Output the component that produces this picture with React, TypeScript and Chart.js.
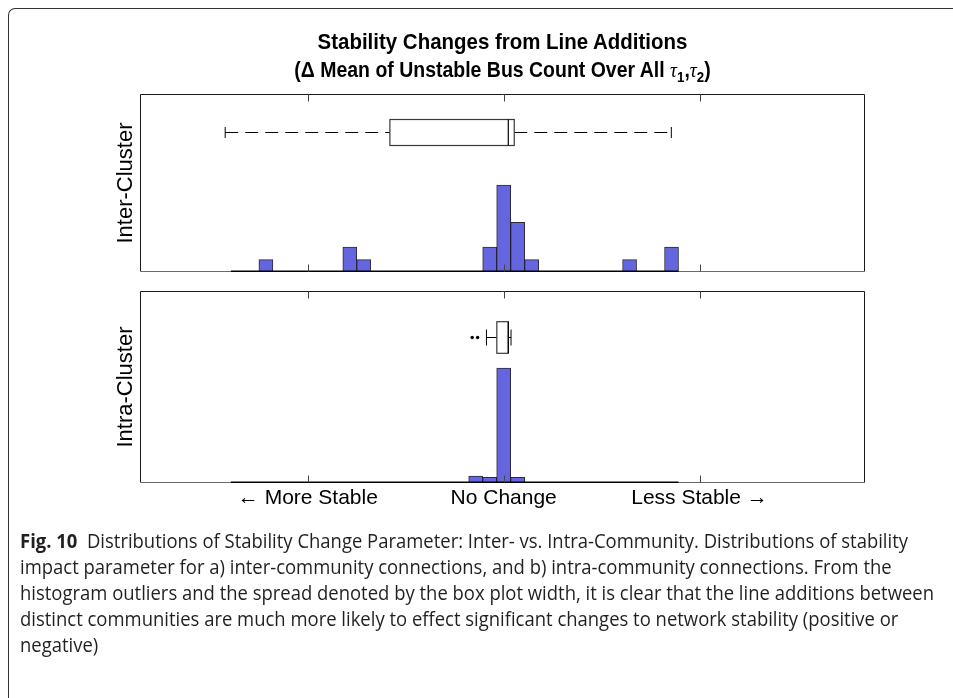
import React, { useEffect, useRef, useState } from "react";
import { Chart, registerables } from "chart.js";

Chart.register(...registerables);

// ---------------- data ----------------
// x axis: Δ mean of unstable bus count, in units where the tick marks sit at -1, 0, 1
const tickValues = [-1, 0, 1];
const tickLabels = ["\u2190 More Stable", "No Change", "Less Stable \u2192"];
const xMin = -1.857;
const xMax = 1.845;

// histogram bins (width 1/14), span of the binned range
const histRange = [-1.3929, 0.8929];

// Inter-cluster histogram: bin centres and counts
const interCenters = [-1.2143, -0.7857, -0.7143, -0.0714, 0, 0.0714, 0.1429, 0.6429, 0.8571];
const interCounts = [1, 2, 1, 2, 7, 4, 1, 1, 2];

// Intra-cluster histogram: bin centres and counts
const intraCenters = [-0.1429, -0.0714, 0, 0.0714];
const intraCounts = [5, 4, 82, 4];

// box plot statistics: [lower whisker, Q1, median, Q3, upper whisker]
const interBox = [-1.422, -0.581, 0.0235, 0.054, 0.856];
const intraBox = [-0.088, -0.035, 0.0235, 0.0235, 0.0375];
const interOutliers: number[] = [];
const intraOutliers = [-0.161, -0.133];

const panelNames = ["Inter-Cluster", "Intra-Cluster"];

const titleLine1 = "Stability Changes from Line Additions";
const titleLine2 = "(\u0394 Mean of Unstable Bus Count Over All ";

const captionBold = "Fig. 10";
const captionLines = [
  "  Distributions of Stability Change Parameter: Inter- vs. Intra-Community. Distributions of stability",
  "impact parameter for a) inter-community connections, and b) intra-community connections. From the",
  "histogram outliers and the spread denoted by the box plot width, it is clear that the line additions between",
  "distinct communities are much more likely to effect significant changes to network stability (positive or",
  "negative)",
];

// ---------------- styles ----------------
const BAR_FILL = "#6565e0";
const BAR_EDGE = "rgba(20,20,40,0.9)";
const FONT = '"Liberation Sans", Arial, Helvetica, sans-serif';
const CAPTION_FONT = '"Open Sans", "Noto Sans", sans-serif';
const CAPTION_SIZE = 20;
const CAPTION_TARGET = 914;

type PanelSpec = {
  id: string;
  box: number[];
  outliers: number[];
  boxY: number;
  boxHalf: number;
  capHalf: number;
  yLabel: string;
  showLabels: boolean;
};

function makePanelPlugin(spec: PanelSpec) {
  return {
    id: spec.id,
    afterDatasetsDraw(chart: any) {
      const { ctx, chartArea: a, scales } = chart;
      const x = scales.x;
      const y = scales.y;
      const L = Math.round(a.left) + 0.5;
      const R = Math.round(a.right) - 0.5;
      const T = Math.round(a.top) + 0.5;
      const B = Math.round(a.bottom) - 0.5;
      ctx.save();

      // axes box
      ctx.lineWidth = 1;
      ctx.strokeStyle = "#1a1a1a";
      ctx.beginPath();
      ctx.moveTo(L, B);
      ctx.lineTo(L, T);
      ctx.lineTo(R, T);
      ctx.lineTo(R, B);
      ctx.stroke();
      ctx.strokeStyle = "#6a6a6a";
      ctx.beginPath();
      ctx.moveTo(L, B);
      ctx.lineTo(R, B);
      ctx.stroke();

      // histogram zero baseline
      ctx.strokeStyle = "#000";
      ctx.lineWidth = 1.6;
      ctx.beginPath();
      ctx.moveTo(x.getPixelForValue(histRange[0]), B - 0.3);
      ctx.lineTo(x.getPixelForValue(histRange[1]), B - 0.3);
      ctx.stroke();

      // inward ticks
      ctx.strokeStyle = "#444";
      ctx.lineWidth = 1;
      tickValues.forEach((v) => {
        const px = Math.round(x.getPixelForValue(v)) + 0.5;
        ctx.beginPath();
        ctx.moveTo(px, T);
        ctx.lineTo(px, T + 7);
        ctx.moveTo(px, B);
        ctx.lineTo(px, B - 7);
        ctx.stroke();
      });

      // box plot
      const yc = Math.round(y.getPixelForValue(spec.boxY)) + 0.5;
      const [wl, q1, med, q3, wh] = spec.box.map((v) => x.getPixelForValue(v));
      ctx.strokeStyle = "#000";
      ctx.lineWidth = 1;
      ctx.setLineDash([13, 7]);
      ctx.beginPath();
      ctx.moveTo(wl, yc);
      ctx.lineTo(q1, yc);
      ctx.stroke();
      ctx.beginPath();
      ctx.moveTo(q3, yc);
      ctx.lineTo(wh, yc);
      ctx.stroke();
      ctx.setLineDash([]);
      ctx.beginPath();
      ctx.moveTo(wl, yc - spec.capHalf);
      ctx.lineTo(wl, yc + spec.capHalf);
      ctx.moveTo(wh, yc - spec.capHalf);
      ctx.lineTo(wh, yc + spec.capHalf);
      ctx.stroke();
      ctx.fillStyle = "#fff";
      ctx.fillRect(q1, yc - spec.boxHalf, q3 - q1, spec.boxHalf * 2);
      ctx.strokeStyle = "#3a3a3a";
      ctx.lineWidth = 1.2;
      ctx.strokeRect(q1, yc - spec.boxHalf, q3 - q1, spec.boxHalf * 2);
      ctx.strokeStyle = "#000";
      ctx.lineWidth = 1.2;
      ctx.beginPath();
      ctx.moveTo(med, yc - spec.boxHalf);
      ctx.lineTo(med, yc + spec.boxHalf);
      ctx.stroke();
      ctx.fillStyle = "#000";
      spec.outliers.forEach((v) => {
        ctx.beginPath();
        ctx.arc(x.getPixelForValue(v), yc, 1.7, 0, Math.PI * 2);
        ctx.fill();
      });

      // y label
      ctx.fillStyle = "#000";
      ctx.font = `22px ${FONT}`;
      ctx.textAlign = "center";
      ctx.textBaseline = "middle";
      ctx.save();
      ctx.translate(126, (a.top + a.bottom) / 2);
      ctx.rotate(-Math.PI / 2);
      ctx.fillText(spec.yLabel, 0, 0);
      ctx.restore();

      // x tick labels
      if (spec.showLabels) {
        ctx.font = `21px ${FONT}`;
        tickValues.forEach((v, i) => {
          ctx.fillText(tickLabels[i], x.getPixelForValue(v), a.bottom + 15);
        });
      }
      ctx.restore();
    },
  };
}

function makeConfig(
  centers: number[],
  counts: number[],
  yMax: number,
  padding: { left: number; right: number; top: number; bottom: number },
  spec: PanelSpec
): any {
  return {
    type: "bar",
    data: {
      datasets: [
        {
          data: centers.map((c, i) => ({ x: c, y: counts[i] })),
          backgroundColor: BAR_FILL,
          borderColor: BAR_EDGE,
          borderWidth: 1,
          borderSkipped: false,
          barPercentage: 1,
          categoryPercentage: 1,
        },
      ],
    },
    options: {
      animation: false,
      responsive: false,
      maintainAspectRatio: false,
      devicePixelRatio: 1,
      layout: { padding },
      plugins: {
        legend: { display: false },
        tooltip: { enabled: false },
        title: { display: false },
      },
      scales: {
        x: { type: "linear", min: xMin, max: xMax, display: false, offset: false },
        y: { type: "linear", min: 0, max: yMax, display: false },
      },
    },
    plugins: [makePanelPlugin(spec)],
  };
}

function captionScale(): number {
  try {
    const ctx = document.createElement("canvas").getContext("2d");
    if (!ctx) return 0.83;
    ctx.font = `${CAPTION_SIZE}px ${CAPTION_FONT}`;
    const w = ctx.measureText(captionLines[2]).width;
    return w > 0 ? CAPTION_TARGET / w : 0.83;
  } catch (e) {
    return 0.83;
  }
}

const serifTau = {
  fontFamily: '"Liberation Serif", "DejaVu Serif", serif',
  fontStyle: "italic" as const,
  fontWeight: "normal" as const,
};

export default function App() {
  const topRef = useRef<HTMLCanvasElement>(null);
  const botRef = useRef<HTMLCanvasElement>(null);
  const [scale] = useState(captionScale);

  useEffect(() => {
    const c1 = new Chart(
      topRef.current as HTMLCanvasElement,
      makeConfig(interCenters, interCounts, 14.35, { left: 140, right: 88, top: 94, bottom: 13 }, {
        id: "interPanel",
        box: interBox,
        outliers: interOutliers,
        boxY: 11.27,
        boxHalf: 13,
        capHalf: 5.5,
        yLabel: panelNames[0],
        showLabels: false,
      })
    );
    const c2 = new Chart(
      botRef.current as HTMLCanvasElement,
      makeConfig(intraCenters, intraCounts, 137, { left: 140, right: 88, top: 6, bottom: 62 }, {
        id: "intraPanel",
        box: intraBox,
        outliers: intraOutliers,
        boxY: 103.9,
        boxHalf: 15.8,
        capHalf: 8,
        yLabel: panelNames[1],
        showLabels: true,
      })
    );
    return () => {
      c1.destroy();
      c2.destroy();
    };
  }, []);

  return (
    <div style={{ position: "absolute", left: 0, top: 0, width: 953, height: 698, overflow: "hidden", background: "#fff" }}>
      <div
        style={{
          position: "absolute",
          left: 8,
          top: 8,
          width: 1000,
          height: 760,
          borderLeft: "1.5px solid #333",
          borderTop: "1.5px solid #333",
          borderTopLeftRadius: 7,
        }}
      />
      <canvas ref={topRef} width={953} height={285} style={{ position: "absolute", left: 0, top: 0, width: 953, height: 285 }} />
      <canvas ref={botRef} width={953} height={260} style={{ position: "absolute", left: 0, top: 285, width: 953, height: 260 }} />
      <div
        style={{
          position: "absolute",
          left: 140,
          width: 725,
          top: 28,
          textAlign: "center",
          fontFamily: FONT,
          fontWeight: "bold",
          fontSize: 22,
          lineHeight: "28px",
          color: "#000",
          whiteSpace: "nowrap",
        }}
      >
        <div style={{ transform: "scaleX(0.93)", transformOrigin: "center top" }}>{titleLine1}</div>
        <div style={{ transform: "scaleX(0.885)", transformOrigin: "center top" }}>
          {titleLine2}
          <span style={serifTau}>τ</span>
          <sub style={{ fontSize: 15, lineHeight: 0 }}>1</sub>,<span style={serifTau}>τ</span>
          <sub style={{ fontSize: 15, lineHeight: 0 }}>2</sub>)
        </div>
      </div>
      <div
        style={{
          position: "absolute",
          left: 20,
          top: 528,
          fontFamily: CAPTION_FONT,
          fontSize: CAPTION_SIZE,
          lineHeight: "26px",
          color: "#231f20",
          whiteSpace: "pre",
          transform: `scaleX(${scale})`,
          transformOrigin: "left top",
        }}
      >
        <div>
          <b>{captionBold}</b>
          {captionLines[0]}
        </div>
        <div>{captionLines[1]}</div>
        <div>{captionLines[2]}</div>
        <div>{captionLines[3]}</div>
        <div>{captionLines[4]}</div>
      </div>
    </div>
  );
}
